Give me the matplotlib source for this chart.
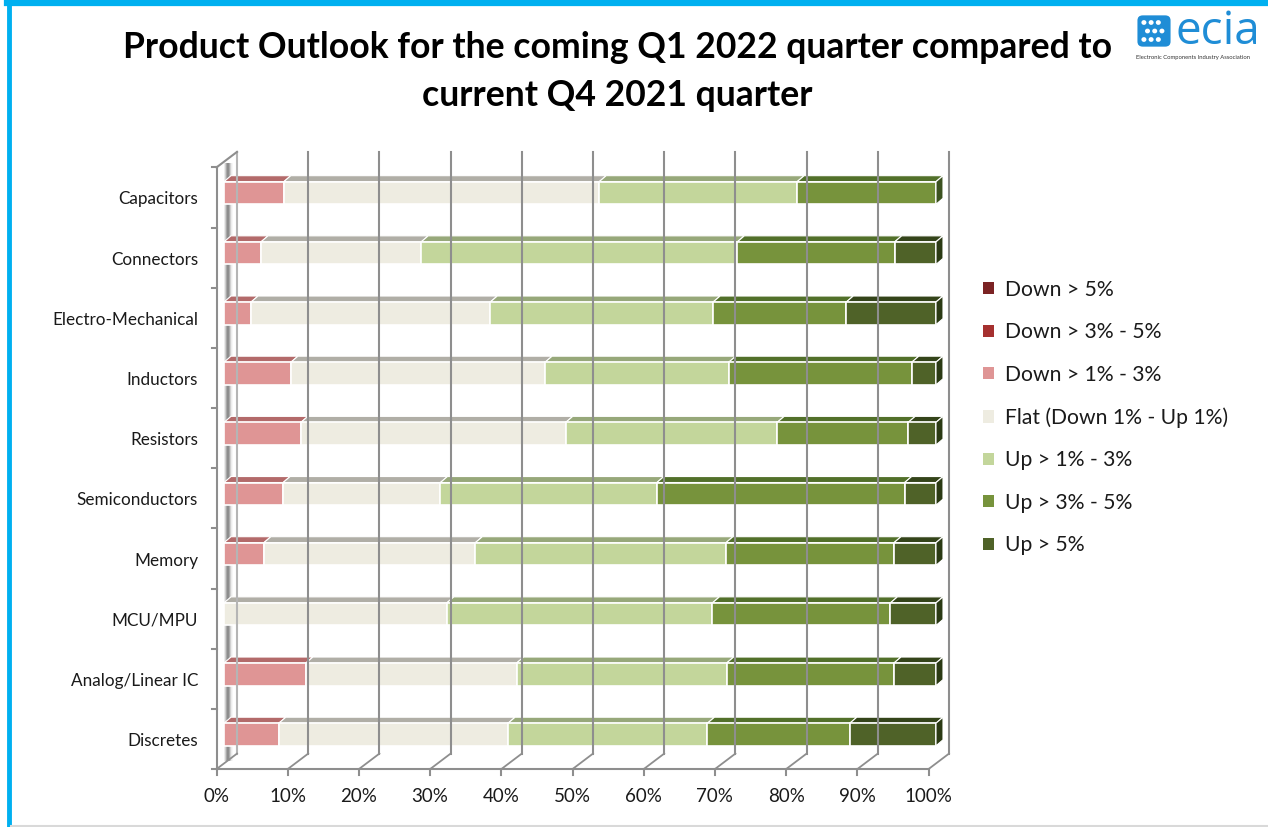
import matplotlib
matplotlib.use("Agg")
import matplotlib.pyplot as plt
from matplotlib.patches import Polygon, Patch, FancyBboxPatch, Circle
from matplotlib.transforms import ScaledTranslation, IdentityTransform
from matplotlib.lines import Line2D
import numpy as np

# ---------------- data ----------------
categories = ["Capacitors", "Connectors", "Electro-Mechanical", "Inductors", "Resistors",
              "Semiconductors", "Memory", "MCU/MPU", "Analog/Linear IC", "Discretes"]
series_labels = ["Down > 5%", "Down > 3% - 5%", "Down > 1% - 3%", "Flat (Down 1% - Up 1%)",
                 "Up > 1% - 3%", "Up > 3% - 5%", "Up > 5%"]
down_5 = [0, 0, 0, 0, 0, 0, 0, 0, 0, 0]
down_3_5 = [0, 0, 0, 0, 0, 0, 0, 0, 0, 0]
down_1_3 = [8.4, 5.2, 3.8, 9.4, 10.8, 8.3, 5.6, 0.0, 11.5, 7.7]
flat = [44.3, 22.5, 33.6, 35.7, 37.2, 22.1, 29.7, 31.3, 29.6, 32.2]
up_1_3 = [27.8, 44.4, 31.3, 25.8, 29.7, 30.4, 35.2, 37.3, 29.5, 28.0]
up_3_5 = [19.5, 22.1, 18.7, 25.7, 18.4, 34.8, 23.6, 25.0, 23.5, 20.0]
up_5 = [0.0, 5.8, 12.6, 3.4, 3.9, 4.4, 5.9, 6.4, 5.9, 12.1]
x_ticks = [0, 10, 20, 30, 40, 50, 60, 70, 80, 90, 100]
x_tick_labels = ["0%", "10%", "20%", "30%", "40%", "50%", "60%", "70%", "80%", "90%", "100%"]
title_lines = ["Product Outlook for the coming Q1 2022 quarter compared to",
               "current Q4 2021 quarter"]

series = [down_5, down_3_5, down_1_3, flat, up_1_3, up_3_5, up_5]
colors = ["#7b2324", "#a5302f", "#df9595", "#eeece1", "#c3d69b", "#77933c", "#4f6228"]
top_colors = ["#5a1818", "#7d2222", "#b36a6a", "#b0aea6", "#97a87a", "#52702a", "#34441a"]
side_colors = ["#4a1212", "#661b1b", "#9a5656", "#9a988f", "#7f9063", "#3c5220", "#2b3a14"]

W, H = 1268, 827
FONT = ["Lato", "DejaVu Sans"]
plt.rcParams["font.family"] = FONT

fig = plt.figure(figsize=(W / 100, H / 100), dpi=100)
fig.patch.set_facecolor("white")
ax = fig.add_axes([224 / W, 1 - 764.6 / H, 712 / W, (764.6 - 162.9) / H])
ax.set_xlim(0, 100)
ax.set_ylim(len(categories) - 0.5, -0.5)
ax.autoscale(False)
ax.set_facecolor("none")
for s in ax.spines.values():
    s.set_visible(False)


def px(dx, dy):
    return ScaledTranslation(dx / 100, -dy / 100, fig.dpi_scale_trans)


def shift(dx, dy):
    """data transform shifted by pixels (dy positive = down)"""
    return ax.transData + px(dx, dy)


FRONT = shift(-7.5, 4.5)
BACK = shift(13, -11)
gridc = "#8e8e8e"
ytop, ybot = -0.5, len(categories) - 0.5


def seg(p, q, tp, tq, **kw):
    a = tp.transform(p)
    b = tq.transform(q)
    ln = Line2D([a[0], b[0]], [a[1], b[1]], transform=IdentityTransform(), **kw)
    fig.add_artist(ln)
    return ln


# back wall gridlines
for t in x_ticks:
    seg((t, ytop), (t, ybot), BACK, BACK, color=gridc if t > 0 else "#b5b5b5", lw=1.5, zorder=0.5)
# floor diagonals
for t in x_ticks:
    seg((t, ybot), (t, ybot), FRONT, BACK, color=gridc, lw=1.3, zorder=0.5)
# front floor edge and left axis
seg((0, ybot), (100, ybot), FRONT, FRONT, color=gridc, lw=1.5, zorder=0.5)
seg((0, ytop), (0, ybot), FRONT, FRONT, color=gridc, lw=1.5, zorder=0.5)
seg((0, ytop), (0, ytop), FRONT, BACK, color=gridc, lw=1.5, zorder=0.5)
# ticks
for t in x_ticks:
    seg((t, ybot), (t, ybot), FRONT, shift(-7.5, 10), color=gridc, lw=1.5, zorder=0.5)
for k in range(len(categories) + 1):
    yb = -0.5 + k
    seg((0, yb), (0, yb), FRONT, shift(-12.5, 4.5), color=gridc, lw=1.5, zorder=0.5)

# left wall shading strip
grad = np.array([[0.98, 0.85, 0.6, 0.5, 0.65, 0.9, 0.98]])
ax.imshow(grad, cmap="gray", vmin=0, vmax=1, aspect="auto",
          extent=(-0.1, 1.2, ybot, ytop), transform=shift(0, -4), zorder=1, interpolation="bicubic")

# bars
y = np.arange(len(categories))
bh = 0.376
left = np.zeros(len(categories))
inv = ax.transData.inverted()
p0 = ax.transData.transform((0, 0))
dxd, dyd = inv.transform(p0 + np.array([7.0, 6.0]))
for vals, c, tc in zip(series, colors, top_colors):
    vals = np.asarray(vals, dtype=float)
    mask = vals > 0
    ax.barh(y[mask], vals[mask], left=left[mask], height=bh, color=c,
            edgecolor="white", linewidth=1.2, zorder=3)
    for i in np.where(mask)[0]:
        l, r = left[i], left[i] + vals[i]
        t = y[i] - bh / 2
        ax.add_patch(Polygon([(l, t), (r, t), (r + dxd, t + dyd), (l + dxd, t + dyd)],
                             closed=True, facecolor=tc, edgecolor="white", linewidth=0.8,
                             zorder=2.9, clip_on=False))
    left = left + vals

# end side faces
for i in range(len(categories)):
    last = max(j for j, s in enumerate(series) if s[i] > 0)
    R = left[i]
    t = y[i] - bh / 2
    b = y[i] + bh / 2
    ax.add_patch(Polygon([(R, t), (R, b), (R + dxd, b + dyd), (R + dxd, t + dyd)], closed=True,
                         facecolor=side_colors[last], edgecolor="white", linewidth=0.8,
                         zorder=3.1, clip_on=False))

# y labels (aligned with the front plane)
ax.set_yticks(y)
ax.set_yticklabels(categories, fontsize=12.3, color="#1a1a1a")
ax.tick_params(axis="y", length=0, pad=(224 - 198) * 0.72)
for lab in ax.get_yticklabels():
    lab.set_transform(lab.get_transform() + px(0, 5))
# x labels (on the front floor)
ax.set_xticks(x_ticks)
ax.set_xticklabels(x_tick_labels, fontsize=13.5, color="#1a1a1a")
ax.tick_params(axis="x", length=0, pad=17)
for lab in ax.get_xticklabels():
    lab.set_transform(lab.get_transform() + px(-7.5, 0))

# legend
handles = [Patch(facecolor=c, edgecolor="none") for c in colors]
leg = fig.legend(handles, series_labels, loc="upper left", bbox_to_anchor=(975 / W, 1 - 271.5 / H),
                 frameon=False, fontsize=15.2, handlelength=0.5, handleheight=0.5,
                 handletextpad=0.5, labelspacing=1.065, borderaxespad=0)
for txt in leg.get_texts():
    txt.set_color("#1a1a1a")

# title (fit line 1 width)
t1 = fig.text(617.5 / W, 1 - 47 / H, title_lines[0], ha="center", va="center",
              fontsize=24, fontweight="bold", color="black")
fig.canvas.draw()
wpx = t1.get_window_extent(fig.canvas.get_renderer()).width
fs = 24 * 989 / wpx
t1.set_fontsize(fs)
fig.text(617.5 / W, 1 - 95 / H, title_lines[1], ha="center", va="center",
         fontsize=fs, fontweight="bold", color="black")

# logo
lax = fig.add_axes([1136 / W, 1 - 48 / H, 36 / W, 34 / H])
lax.set_xlim(0, 1); lax.set_ylim(0, 1); lax.axis("off")
lax.add_patch(FancyBboxPatch((0.04, 0.04), 0.92, 0.92, boxstyle="round,pad=0,rounding_size=0.15",
                             facecolor="#1f8dd6", edgecolor="none"))
for yy in (0.25, 0.5, 0.75):
    for xx in (0.22, 0.42, 0.62):
        lax.add_patch(Circle((xx + (0.1 if yy == 0.5 else 0), yy), 0.07, facecolor="white", edgecolor="none"))
fig.text(1175 / W, 1 - 32 / H, "ecia", ha="left", va="center", fontsize=33,
         family=["Open Sans", "DejaVu Sans"], color="#1f8dd6")
fig.text(1136 / W, 1 - 58 / H, "Electronic Components Industry Association", ha="left",
         va="center", fontsize=4.2, color="#333333")

# frame borders
fig.add_artist(Line2D([9 / W, 9 / W], [0, 1 - 2 / H], transform=fig.transFigure, color="#00b0f0", lw=3.5))
fig.add_artist(Line2D([7 / W, 1], [1 - 3 / H, 1 - 3 / H], transform=fig.transFigure, color="#00b0f0", lw=4.5))
fig.add_artist(Line2D([11 / W, 1], [1 - 826 / H, 1 - 826 / H], transform=fig.transFigure, color="#d9d9d9", lw=1.5))

fig.savefig("out.png", dpi=100, facecolor="white")
